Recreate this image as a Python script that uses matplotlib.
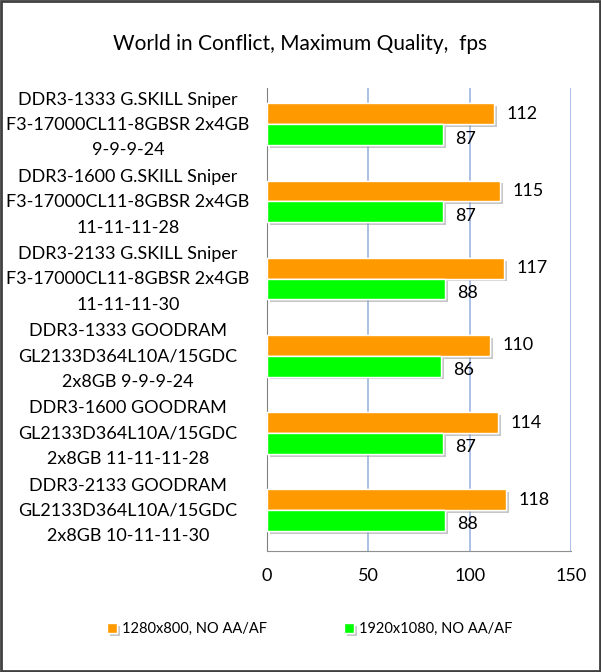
import numpy as np
import matplotlib.pyplot as plt
import matplotlib.patheffects as pe
from matplotlib.patches import Rectangle

# datos
configs = [
    "DDR3-1333 G.SKILL Sniper\nF3-17000CL11-8GBSR 2x4GB\n9-9-9-24",
    "DDR3-1600 G.SKILL Sniper\nF3-17000CL11-8GBSR 2x4GB\n11-11-11-28",
    "DDR3-2133 G.SKILL Sniper\nF3-17000CL11-8GBSR 2x4GB\n11-11-11-30",
    "DDR3-1333 GOODRAM\nGL2133D364L10A/15GDC\n2x8GB 9-9-9-24",
    "DDR3-1600 GOODRAM\nGL2133D364L10A/15GDC\n2x8GB 11-11-11-28",
    "DDR3-2133 GOODRAM\nGL2133D364L10A/15GDC\n2x8GB 10-11-11-30",
]
fps_1280 = [112, 115, 117, 110, 114, 118]
fps_1920 = [87, 87, 88, 86, 87, 88]
series_names = ["1280x800, NO AA/AF", "1920x1080, NO AA/AF"]
xticks = [0, 50, 100, 150]

plt.rcParams['font.family'] = ['Lato', 'DejaVu Sans']

fig = plt.figure(figsize=(6.01, 6.72), dpi=100)
ax = fig.add_axes([0.444, 0.180, 0.506, 0.689])

y = np.arange(len(configs))
h = 0.27
sombra = [pe.withSimplePatchShadow(offset=(2, -2), shadow_rgbFace='#909090', alpha=0.5), pe.Normal()]
b1 = ax.barh(y - h / 2 - 0.03, fps_1280, height=h, color='#FF9900', edgecolor='white', linewidth=1,
             path_effects=sombra, label=series_names[0], zorder=3)
b2 = ax.barh(y + h / 2 - 0.03, fps_1920, height=h, color='#00FF00', edgecolor='white', linewidth=1,
             path_effects=sombra, label=series_names[1], zorder=3)

for i in range(len(configs)):
    ax.text(fps_1280[i] + 6, y[i] - h / 2 - 0.03, str(fps_1280[i]), va='center', ha='left', fontsize=13)
    ax.text(fps_1920[i] + 6, y[i] + h / 2 + 0.02, str(fps_1920[i]), va='center', ha='left', fontsize=13)

ax.set_xlim(0, 150)
ax.set_ylim(len(configs) - 0.5, -0.5)
ax.set_xticks(xticks)
ax.set_xticklabels([str(t) for t in xticks], fontsize=13)
ax.set_yticks(y - 0.1)
ax.set_yticklabels(configs, fontsize=13, ha='center', linespacing=1.72)
ax.tick_params(axis='y', length=0, pad=100)
ax.tick_params(axis='x', length=0, pad=12)
ax.grid(axis='x', color='#9DB4E0', linewidth=1.2, zorder=0)
for s in ['top', 'right']:
    ax.spines[s].set_visible(False)
ax.spines['left'].set_color('#808080')
ax.spines['bottom'].set_color('#909090')

fig.text(0.5, 0.935, "World in Conflict, Maximum Quality,  fps", ha='center', va='center', fontsize=15)

fig.legend(handles=[b1, b2], loc='center', bbox_to_anchor=(0.515, 0.064), ncol=2, frameon=False,
           fontsize=10.5, handlelength=0.7, handleheight=0.7, handletextpad=0.3, columnspacing=5.3)

fig.patches.append(Rectangle((0.002, 0.002), 0.996, 0.996, transform=fig.transFigure,
                             fill=False, edgecolor='#404040', linewidth=2))

fig.savefig('out.png', dpi=100)
